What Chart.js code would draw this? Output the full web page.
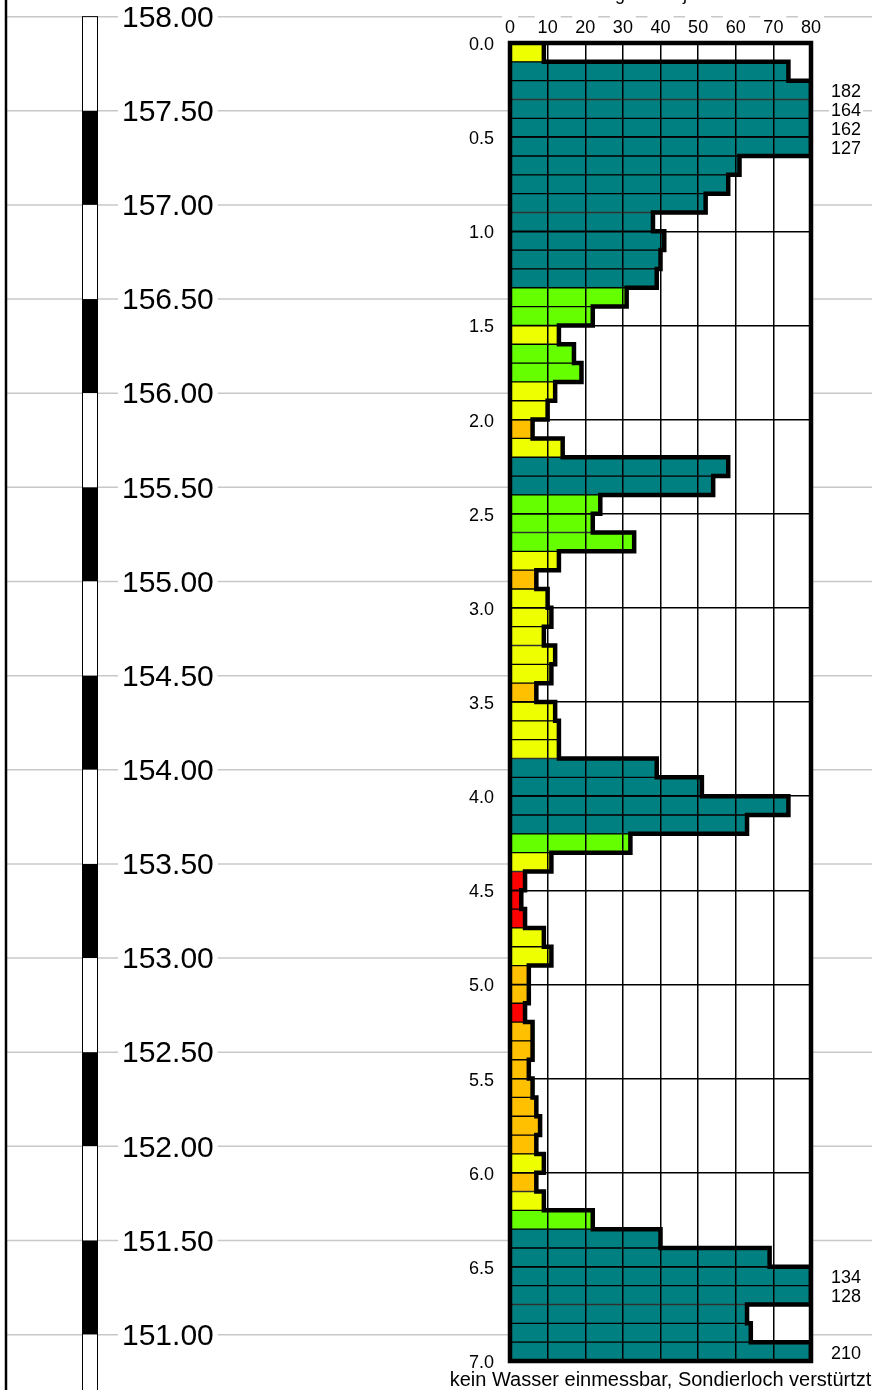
<!DOCTYPE html>
<html>
<head>
<meta charset="utf-8">
<title>Rammsondierung</title>
<script src="https://cdn.jsdelivr.net/npm/chart.js@4.4.1/dist/chart.umd.min.js"></script>
<style>
  html, body { margin: 0; padding: 0; background: #fff; }
  #wrap { width: 872px; height: 1390px; }
</style>
</head>
<body>
<div id="wrap"><canvas id="profile" width="872" height="1390"></canvas></div>
<script>
// blows per 10 cm, row by row from 0.0 m down to 7.0 m
const blows = [
    9, 74, 182, 164, 162, 127, 61, 58, 52, 38,
    41, 40, 39, 31, 22, 13, 17, 19, 12, 10,
    6, 14, 58, 54, 24, 22, 33, 13, 7, 10,
    11, 9, 12, 11, 7, 12, 13, 13, 39, 51,
    74, 63, 32, 11, 4, 3, 4, 9, 11, 5,
    5, 4, 6, 6, 5, 6, 7, 8, 7, 9,
    7, 9, 22, 40, 69, 134, 128, 63, 64, 210
];
const rows = blows.map((_, i) => i);

// elevation scale on the left (m above sea level)
const groundElev = 157.86;
const elevTicks = [158.00, 157.50, 157.00, 156.50, 156.00, 155.50, 155.00, 154.50,
                   154.00, 153.50, 153.00, 152.50, 152.00, 151.50, 151.00];

const depthMax = 7.0;
const blowMax = 80;
const titleText = 'Schlagzahlen je 10 cm';
const footNote = 'kein Wasser einmessbar, Sondierloch verstürtzt';

const FONT = "'Liberation Sans', Arial, sans-serif";
Chart.defaults.font.family = FONT;
Chart.defaults.color = '#000';

function blowColor(n) {
    if (n <= 4) return '#ff0000';
    if (n <= 8) return '#ffc000';
    if (n <= 15) return '#eeff00';
    if (n <= 35) return '#66ff00';
    return '#008080';
}

// stepped outline along the right end of the bars
const outline = [];
blows.forEach((n, i) => {
    const v = Math.min(n, blowMax);
    outline.push({ x: v, y: i * 0.1 });
    outline.push({ x: v, y: (i + 1) * 0.1 });
});

// gray elevation lines, white plot area, black/white scale bar
const backdropPlugin = {
    id: 'backdrop',
    beforeDraw(chart) {
        const { ctx, chartArea: a, width, height } = chart;
        const elev = chart.scales.elev;
        ctx.save();
        ctx.fillStyle = '#fff';
        ctx.fillRect(0, 0, width, height);

        ctx.strokeStyle = '#c8c8c8';
        ctx.lineWidth = 1.5;
        elevTicks.forEach(e => {
            const y = elev.getPixelForValue(e);
            ctx.beginPath();
            ctx.moveTo(7, y);
            ctx.lineTo(width, y);
            ctx.stroke();
        });

        ctx.fillStyle = '#fff';
        ctx.fillRect(a.left, a.top, a.right - a.left, a.bottom - a.top);

        // scale bar, 0.5 m segments
        const barX = 82, barW = 15;
        elevTicks.forEach((e, i) => {
            const y1 = elev.getPixelForValue(e);
            const y2 = elev.getPixelForValue(e - 0.5);
            ctx.fillStyle = i % 2 ? '#000' : '#fff';
            ctx.fillRect(barX, y1, barW, y2 - y1);
        });
        const top = elev.getPixelForValue(elevTicks[0]);
        ctx.strokeStyle = '#000';
        ctx.lineWidth = 1;
        ctx.strokeRect(barX + 0.5, top, barW, height - top + 10);

        ctx.font = '30px ' + FONT;
        ctx.textBaseline = 'middle';
        ctx.textAlign = 'left';
        elevTicks.forEach(e => {
            const y = elev.getPixelForValue(e);
            const txt = e.toFixed(2);
            const w = ctx.measureText(txt).width;
            ctx.fillStyle = '#fff';
            ctx.fillRect(118, y - 12, w + 8, 24);
            ctx.fillStyle = '#000';
            ctx.fillText(txt, 122, y + 2);
        });
        ctx.restore();
    },
    afterDraw(chart) {
        const { ctx, chartArea: a, width, height } = chart;
        const xs = chart.scales.x, ys = chart.scales.y;
        ctx.save();
        ctx.strokeStyle = '#000';
        ctx.lineWidth = 4.5;
        ctx.strokeRect(a.left, a.top, a.right - a.left, a.bottom - a.top);

        // real counts for the bars that run off the scale
        ctx.font = '18px ' + FONT;
        ctx.textBaseline = 'middle';
        ctx.textAlign = 'left';
        const lx = xs.getPixelForValue(blowMax) + 20;
        blows.forEach((n, i) => {
            if (n <= blowMax) return;
            const y = ys.getPixelForValue(i) + 2;
            const w = ctx.measureText(String(n)).width;
            ctx.fillStyle = '#fff';
            ctx.fillRect(lx - 2, y - 8, w + 4, 16);
            ctx.fillStyle = '#000';
            ctx.fillText(String(n), lx, y);
        });

        // left frame line
        ctx.lineWidth = 2.5;
        ctx.beginPath();
        ctx.moveTo(6, 0);
        ctx.lineTo(6, height);
        ctx.stroke();

        const cx = (a.left + a.right) / 2;
        ctx.textAlign = 'center';
        ctx.textBaseline = 'alphabetic';
        ctx.fillStyle = '#000';
        ctx.fillText(titleText, cx, 0);

        ctx.font = '20px ' + FONT;
        const fw = ctx.measureText(footNote).width;
        ctx.fillStyle = '#fff';
        ctx.fillRect(cx - fw / 2 - 2, 1368, fw + 4, height - 1368);
        ctx.fillStyle = '#000';
        ctx.fillText(footNote, cx, 1386);
        ctx.restore();
    }
};

const ctx = document.getElementById('profile').getContext('2d');
new Chart(ctx, {
    type: 'bar',
    data: {
        labels: rows,
        datasets: [{
            type: 'bar',
            data: blows,
            xAxisID: 'x',
            yAxisID: 'y',
            backgroundColor: blows.map(blowColor),
            borderColor: '#000',
            borderWidth: 1,
            borderSkipped: false,
            barPercentage: 1,
            categoryPercentage: 1,
            grouped: false,
            order: 2
        }, {
            type: 'line',
            data: outline,
            xAxisID: 'x',
            yAxisID: 'depth',
            borderColor: '#000',
            borderWidth: 4.5,
            borderJoinStyle: 'miter',
            pointRadius: 0,
            fill: false,
            tension: 0,
            order: 1
        }]
    },
    options: {
        indexAxis: 'y',
        responsive: false,
        animation: false,
        layout: { padding: { top: 0, left: 0, right: 61, bottom: 29 } },
        plugins: { legend: { display: false }, tooltip: { enabled: false } },
        scales: {
            x: {
                type: 'linear',
                position: 'top',
                min: 0,
                max: blowMax,
                afterFit: s => { s.height = 43; },
                ticks: {
                    stepSize: 10,
                    font: { size: 18 },
                    color: '#000',
                    padding: 4,
                    showLabelBackdrop: true,
                    backdropColor: '#fff',
                    backdropPadding: { top: 9, bottom: 2, left: 3, right: 3 }
                },
                grid: { color: '#000', lineWidth: 1.5, drawTicks: false, z: 1 },
                border: { display: false }
            },
            y: {
                type: 'category',
                display: false,
                offset: true
            },
            depth: {
                type: 'linear',
                axis: 'y',
                position: 'left',
                offset: false,
                min: 0,
                max: depthMax,
                reverse: true,
                afterFit: s => { s.width = 510; },
                ticks: {
                    stepSize: 0.5,
                    font: { size: 18 },
                    color: '#000',
                    padding: 16,
                    labelOffset: 2,
                    callback: v => v.toFixed(1)
                },
                grid: { color: '#000', lineWidth: 1.5, drawTicks: false, offset: false, z: 1 },
                border: { display: false }
            },
            elev: {
                type: 'linear',
                axis: 'y',
                position: 'right',
                display: false,
                offset: false,
                min: groundElev - depthMax,
                max: groundElev
            }
        }
    },
    plugins: [backdropPlugin]
});
</script>
</body>
</html>
